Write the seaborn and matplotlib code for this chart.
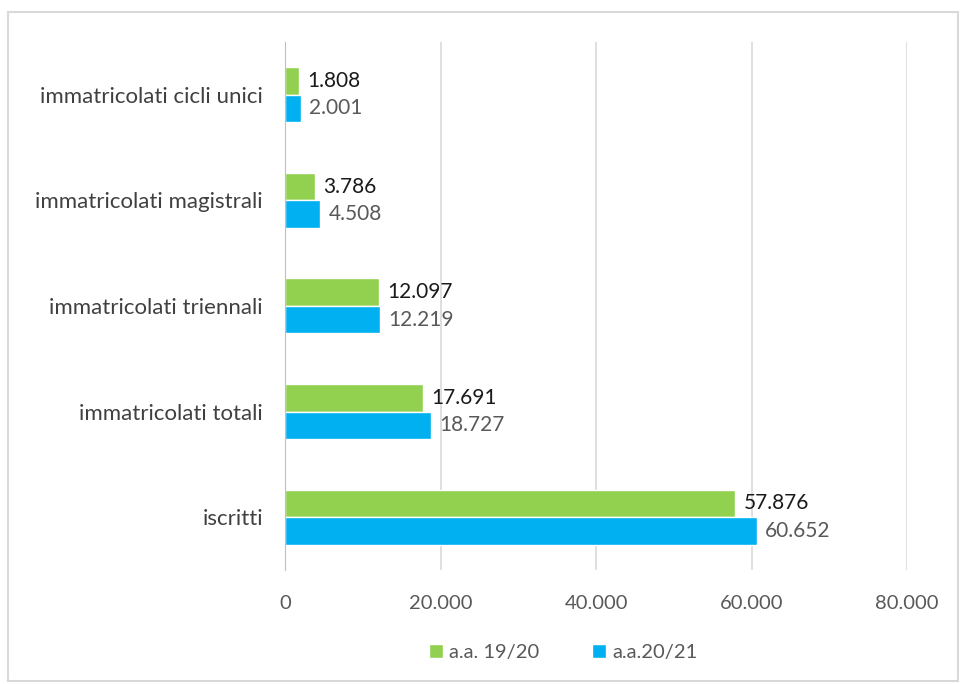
import numpy as np
import pandas as pd
import matplotlib.pyplot as plt
import seaborn as sns
from matplotlib.patches import Rectangle

categorie = ['immatricolati cicli unici', 'immatricolati magistrali',
             'immatricolati triennali', 'immatricolati totali', 'iscritti']
anni = ['a.a. 19/20', 'a.a.20/21']
val_1920 = [1808, 3786, 12097, 17691, 57876]
val_2021 = [2001, 4508, 12219, 18727, 60652]
colori = ['#92d050', '#00b0f0']

df = pd.DataFrame({
    'categoria': categorie * 2,
    'anno': [anni[0]] * 5 + [anni[1]] * 5,
    'valore': val_1920 + val_2021,
})

sns.set_style('white')
plt.rcParams['font.family'] = ['Lato', 'DejaVu Sans']

fig = plt.figure(figsize=(9.6, 6.84), dpi=100)
ax = fig.add_axes([0.297, 0.1667, 0.648, 0.772])

sns.barplot(data=df, y='categoria', x='valore', hue='anno', order=categorie,
            hue_order=anni, palette=colori, width=0.52, orient='h',
            saturation=1, ax=ax, legend=True)

ax.set_xlim(0, 80000)
ax.set_xticks(range(0, 80001, 20000))
ax.set_xticklabels(['0', '20.000', '40.000', '60.000', '80.000'])
ax.grid(axis='x', color='#d9d9d9', linewidth=1.2)
ax.set_axisbelow(True)
for s in ['top', 'right', 'bottom']:
    ax.spines[s].set_visible(False)
ax.spines['left'].set_color('#bfbfbf')
ax.tick_params(axis='x', colors='#595959', labelsize=14.5, length=0, pad=18)
ax.tick_params(axis='y', colors='#404040', labelsize=16, length=0, pad=16)
ax.set_xlabel('')
ax.set_ylabel('')

def fmt(v):
    return f'{v:,}'.replace(',', '.')

for cont, col in zip(ax.containers, ['#1a1a1a', '#595959']):
    ax.bar_label(cont, labels=[fmt(int(b.get_width())) for b in cont],
                 padding=6, fontsize=15, color=col)

ax.legend(loc='upper center', bbox_to_anchor=(0.447, -0.105), ncol=2,
          frameon=False, fontsize=14.5, handlelength=0.7, handleheight=0.7,
          columnspacing=2.6, handletextpad=0.3, labelcolor='#595959')

fig.patches.append(Rectangle((0.008, 0.005), 0.99, 0.977, transform=fig.transFigure,
                             fill=False, edgecolor='#d9d9d9', linewidth=1.5))

fig.savefig('out.png', dpi=100)
